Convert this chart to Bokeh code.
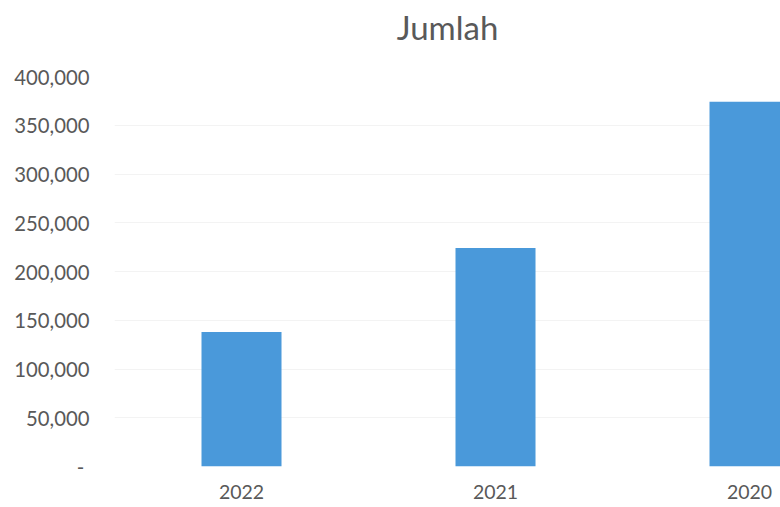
from bokeh.plotting import figure
from bokeh.models import Range1d, FixedTicker, NumeralTickFormatter, Title
from bokeh.embed import file_html
from bokeh.resources import INLINE

categories = ["2022", "2021", "2020"]
values = [138000, 224000, 374000]
y_ticks = [0, 50000, 100000, 150000, 200000, 250000, 300000, 350000, 400000]
title_text = "Jumlah"

FONT = "Lato"
GRAY = "#595959"
BAR = "#4A99DA"

xs = list(range(len(categories)))

p = figure(width=780, height=507, output_backend="svg", toolbar_location=None,
           x_range=Range1d(-0.5, 2.122), y_range=Range1d(0, 400000),
           min_border_left=114, min_border_right=0, min_border_top=76,
           min_border_bottom=41)

p.vbar(x=xs, top=values, width=0.315, bottom=0, color=BAR, line_color=None)

# white (invisible) spacer panel between the title and the plot frame
spacer = Title(text="\u00a0", text_font=FONT, text_font_size="12px",
               text_color="white", standoff=13)
p.add_layout(spacer, "above")

p.title.text = title_text
p.title.align = "center"
p.title.vertical_align = "bottom"
p.title.text_font = FONT
p.title.text_font_size = "33px"
p.title.text_font_style = "normal"
p.title.text_color = GRAY
p.title.standoff = 0

p.outline_line_color = None
p.background_fill_color = "white"
p.border_fill_color = "white"
p.xgrid.grid_line_color = None
p.ygrid.grid_line_color = "#f3f3f3"
p.ygrid.ticker = FixedTicker(ticks=y_ticks)

ya = p.yaxis[0]
ya.ticker = FixedTicker(ticks=y_ticks)
ya.formatter = NumeralTickFormatter(format="0,0")
ya.major_label_overrides = {0: "-\u00a0"}
ya.axis_line_color = None
ya.major_tick_line_color = None
ya.minor_tick_line_color = None
ya.major_tick_out = 0
ya.major_tick_in = 0
ya.major_label_standoff = 25
ya.major_label_text_font = FONT
ya.major_label_text_font_size = "20.3px"
ya.major_label_text_color = GRAY

xa = p.xaxis[0]
xa.ticker = FixedTicker(ticks=xs)
xa.major_label_overrides = {i: c for i, c in enumerate(categories)}
xa.axis_line_color = None
xa.major_tick_line_color = None
xa.minor_tick_line_color = None
xa.major_tick_out = 0
xa.major_tick_in = 0
xa.major_label_standoff = 18
xa.major_label_text_font = FONT
xa.major_label_text_font_size = "19.5px"
xa.major_label_text_color = GRAY

open("out.html", "w").write(file_html(p, INLINE))
